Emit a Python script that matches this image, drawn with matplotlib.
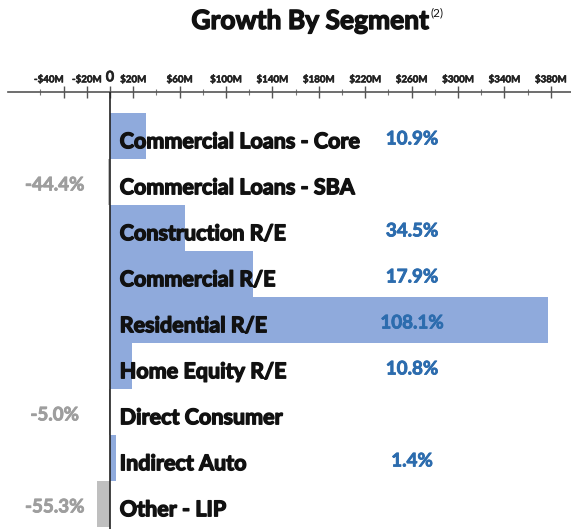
import matplotlib
matplotlib.use("Agg")
import matplotlib.pyplot as plt
import matplotlib.patheffects as pe
from matplotlib.ticker import FixedLocator, NullFormatter

# Loan growth by segment, $M change and % growth
segments = [
    "Commercial Loans - Core",
    "Commercial Loans - SBA",
    "Construction R/E",
    "Commercial R/E",
    "Residential R/E",
    "Home Equity R/E",
    "Direct Consumer",
    "Indirect Auto",
    "Other - LIP",
]
change_musd = [31, -2, 65, 123, 378, 19, -1, 5, -11]
growth_pct = [10.9, -44.4, 34.5, 17.9, 108.1, 10.8, -5.0, 1.4, -55.3]

major_ticks = [-40, -20, 0, 20, 60, 100, 140, 180, 220, 260, 300, 340, 380]
minor_ticks = [-60, 40, 80, 120, 160, 200, 240, 280, 320, 360]
tick_labels = ["-$40M", "-$20M", "0", "$20M", "$60M", "$100M", "$140M",
               "$180M", "$220M", "$260M", "$300M", "$340M", "$380M"]

BLUE_BAR = "#8FAADC"
GREY_BAR = "#BFBFBF"
BLUE_TXT = "#2C6CAE"
GREY_TXT = "#9E9E9E"

plt.rcParams["font.family"] = ["Lato", "DejaVu Sans"]


def heavy(color, w=0.9):
    # thicken the bold face a little with an outline in the same colour
    return [pe.withStroke(linewidth=w, foreground=color)]


W, H = 571, 529
fig = plt.figure(figsize=(W / 100, H / 100), dpi=100)

# axes spans from the top axis line down to the bottom edge
left_px, top_px = 8, 92
ax = fig.add_axes([left_px / W, 0.0, 1 - left_px / W, 1 - top_px / H])

px_per_m = 1.16
zero_px = 110
ax.set_xlim(-(zero_px - left_px) / px_per_m, (W - zero_px) / px_per_m)
n = len(segments)
ax.set_ylim(n - 1 + 0.54, -0.96)

ys = list(range(n))
colors = [BLUE_BAR if v > 0 else GREY_BAR for v in change_musd]
ax.barh(ys, change_musd, height=1.0, color=colors, zorder=2)
ax.axvline(0, color="#222222", lw=1.2, zorder=3)

# category names sit just right of the zero line
for y, name in zip(ys, segments):
    ax.annotate(name, xy=(0, y), xytext=(7, -4), textcoords="offset points",
                ha="left", va="center", fontsize=15.5, fontweight="bold",
                color="#111111", zorder=4, path_effects=heavy("#111111", 1.0))

# growth percentages: positive on the right, negative on the left
for y, p in zip(ys, growth_pct):
    if p > 0:
        xf, col = 0.7176, BLUE_TXT
    else:
        xf, col = 0.083, GREY_TXT
    ax.annotate(f"{p:.1f}%", xy=(xf, y), xycoords=("axes fraction", "data"),
                xytext=(0, -2), textcoords="offset points",
                ha="center", va="center", fontsize=13.5, fontweight="bold",
                color=col, zorder=4, path_effects=heavy(col, 0.6))

# top scale
for side in ("left", "right", "bottom"):
    ax.spines[side].set_visible(False)
ax.spines["top"].set_color("#555555")
ax.spines["top"].set_linewidth(1.2)
ax.set_yticks([])
ax.xaxis.tick_top()
ax.xaxis.set_major_locator(FixedLocator(major_ticks))
ax.xaxis.set_minor_locator(FixedLocator(minor_ticks))
ax.xaxis.set_minor_formatter(NullFormatter())
ax.set_xticklabels(tick_labels)
ax.tick_params(axis="x", which="major", direction="inout", length=8, width=1.0,
               color="#555555", pad=1.5, labelsize=7, labelcolor="#222222")
ax.tick_params(axis="x", which="minor", direction="inout", length=4, width=0.8,
               color="#777777")
for lbl in ax.get_xticklabels():
    lbl.set_fontweight("bold")
    lbl.set_path_effects(heavy("#222222", 0.4))
    txt = lbl.get_text()
    if txt == "0":
        lbl.set_fontsize(10.5)
    elif txt == "-$40M":
        lbl.set_horizontalalignment("right")

title = fig.text(310 / W, 1 - 21 / H, "Growth By Segment", ha="center", va="center",
                 fontsize=19, fontweight="bold", color="#111111",
                 path_effects=heavy("#111111", 1.0))
ax.annotate("(2)", xy=(1.0, 1.0), xycoords=title, xytext=(1, 1),
            textcoords="offset points", ha="left", va="top", fontsize=8.5,
            color="#111111", annotation_clip=False)

fig.savefig("out.png", dpi=100)
